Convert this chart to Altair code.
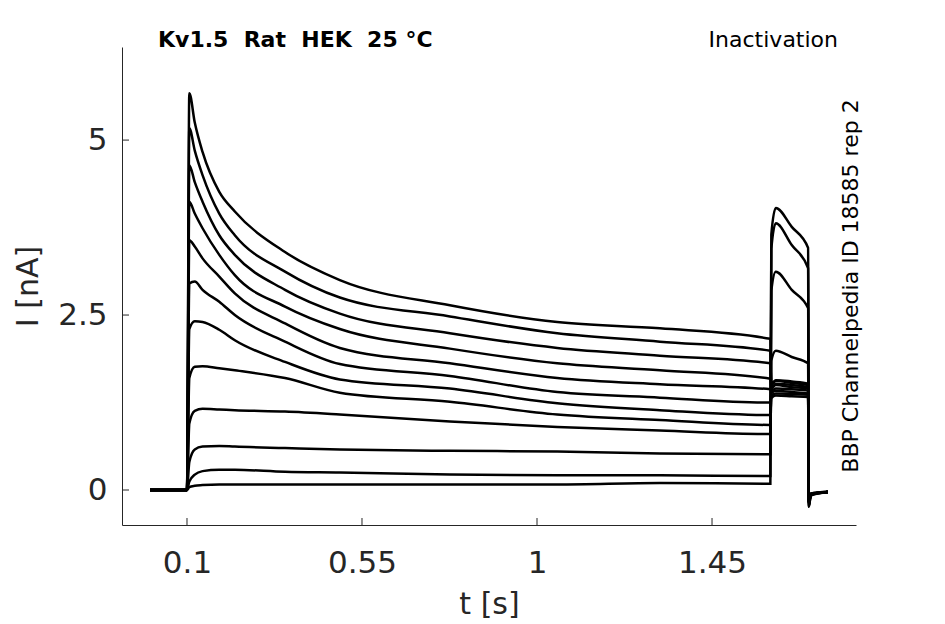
import altair as alt
import pandas as pd

# ---- data ----
T = [0.005, 0.0995, 0.1, 0.106, 0.12, 0.14, 0.183, 0.223, 0.352, 0.493, 0.776,
     1.052, 1.316, 1.6, 1.6025, 1.614, 1.655, 1.697, 1.699, 1.704, 1.748]

trace_01 = [0, 0, 0, 5.67, 5.25, 4.83, 4.26, 3.98, 3.40, 3.00, 2.64, 2.40, 2.31, 2.16, 1.45, 1.52, 1.50, 1.47, -0.18, -0.06, -0.03]
trace_02 = [0, 0, 0, 5.17, 4.85, 4.50, 3.95, 3.64, 3.12, 2.75, 2.48, 2.24, 2.12, 1.99, 1.50, 1.56, 1.53, 1.50, -0.18, -0.06, -0.03]
trace_03 = [0, 0, 0, 4.64, 4.40, 4.12, 3.64, 3.36, 2.86, 2.52, 2.24, 2.03, 1.92, 1.81, 1.52, 1.57, 1.55, 1.52, -0.19, -0.06, -0.03]
trace_04 = [0, 0, 0, 4.12, 3.95, 3.74, 3.36, 3.07, 2.62, 2.30, 2.02, 1.81, 1.71, 1.59, 1.46, 1.50, 1.47, 1.45, -0.18, -0.06, -0.03]
trace_05 = [0, 0, 0, 3.57, 3.48, 3.31, 3.05, 2.81, 2.38, 2.03, 1.81, 1.60, 1.51, 1.44, 1.42, 1.45, 1.44, 1.42, -0.18, -0.06, -0.03]
trace_06 = [0, 0, 0, 2.95, 2.98, 2.86, 2.69, 2.50, 2.12, 1.80, 1.63, 1.40, 1.32, 1.25, 1.38, 1.42, 1.40, 1.38, -0.18, -0.06, -0.03]
trace_07 = [0, 0, 0, 2.30, 2.41, 2.40, 2.29, 2.14, 1.83, 1.58, 1.45, 1.24, 1.14, 1.07, 1.34, 1.38, 1.37, 1.36, -0.17, -0.05, -0.03]
trace_08 = [0, 0, 0, 1.60, 1.76, 1.77, 1.74, 1.71, 1.60, 1.39, 1.26, 1.08, 1.00, 0.93, 1.31, 1.35, 1.34, 1.33, -0.17, -0.05, -0.02]
trace_09 = [0, 0, 0, 0.95, 1.13, 1.16, 1.15, 1.14, 1.12, 1.08, 0.98, 0.90, 0.85, 0.80, 1.85, 1.99, 1.90, 1.81, -0.20, -0.06, -0.03]
trace_10 = [0, 0, 0, 0.40, 0.58, 0.62, 0.63, 0.62, 0.60, 0.58, 0.56, 0.55, 0.52, 0.51, 2.85, 3.12, 2.86, 2.60, -0.22, -0.07, -0.03]
trace_11 = [0, 0, 0, 0.12, 0.22, 0.27, 0.29, 0.29, 0.26, 0.25, 0.22, 0.21, 0.21, 0.20, 3.45, 3.81, 3.50, 3.17, -0.23, -0.07, -0.03]
trace_12 = [0, 0, 0, 0.04, 0.06, 0.07, 0.08, 0.08, 0.08, 0.08, 0.08, 0.08, 0.10, 0.09, 3.65, 4.03, 3.76, 3.46, -0.24, -0.08, -0.03]

TRACES = [trace_01, trace_02, trace_03, trace_04, trace_05, trace_06,
          trace_07, trace_08, trace_09, trace_10, trace_11, trace_12]

x_ticks = [0.1, 0.55, 1, 1.45]
y_ticks = [0, 2.5, 5]
x_domain = [-0.0671, 1.8202]
y_domain = [-0.5, 6.33]

title_text = "Kv1.5 \u00a0Rat \u00a0HEK \u00a025 °C"
protocol_text = "Inactivation"
source_text = "BBP Channelpedia ID 18585 rep 2"
x_title = "t [s]"
y_title = "I [nA]"

rows = []
for k, vals in enumerate(TRACES):
    for t, v in zip(T, vals):
        rows.append({"trace": k, "t": t, "I": v})
df = pd.DataFrame(rows)

# ---- styling ----
W, H = 734, 478
AX = "#262626"
FONT = "DejaVu Sans"
TICK = 7

xscale = alt.Scale(domain=x_domain, nice=False, zero=False)
yscale = alt.Scale(domain=y_domain, nice=False, zero=False)

x_axis = alt.Axis(values=x_ticks, format=".3~g", ticks=False, tickSize=0, grid=False,
                  domainColor=AX, domainWidth=1, labelColor=AX, labelFont=FONT,
                  labelFontSize=31, labelPadding=23, labelFlush=False,
                  title=x_title, titleFont=FONT, titleFontSize=30, titleFontWeight="normal",
                  titleColor=AX, titleX=367, titleY=79, titleBaseline="middle",
                  titleAlign="center")
y_axis = alt.Axis(values=y_ticks, format=".3~g", ticks=False, tickSize=0, grid=False,
                  domainColor=AX, domainWidth=1, labelColor=AX, labelFont=FONT,
                  labelFontSize=31, labelPadding=15, labelFlush=False,
                  title=y_title, titleFont=FONT, titleFontSize=30, titleFontWeight="normal",
                  titleColor=AX, titleX=-94, titleY=239, titleAngle=270,
                  titleBaseline="middle", titleAlign="center")

lines = alt.Chart(df).mark_line(color="black", strokeWidth=2.5, interpolate="monotone").encode(
    x=alt.X("t:Q", scale=xscale, axis=x_axis),
    y=alt.Y("I:Q", scale=yscale, axis=y_axis),
    detail="trace:N",
)

xt = alt.Chart(pd.DataFrame({"t": x_ticks})).mark_rule(color=AX, strokeWidth=1).encode(
    x=alt.X("t:Q", scale=xscale, axis=x_axis),
    y=alt.value(H), y2=alt.value(H - TICK),
)
yt = alt.Chart(pd.DataFrame({"I": y_ticks})).mark_rule(color=AX, strokeWidth=1).encode(
    y=alt.Y("I:Q", scale=yscale, axis=y_axis),
    x=alt.value(0), x2=alt.value(TICK),
)

title_layer = alt.Chart(pd.DataFrame({"s": [title_text]})).mark_text(
    font=FONT, fontSize=22, fontWeight="bold", align="left", baseline="alphabetic", color="black"
).encode(text="s:N", x=alt.value(36), y=alt.value(0))

protocol_layer = alt.Chart(pd.DataFrame({"s": [protocol_text]})).mark_text(
    font=FONT, fontSize=22, align="right", baseline="alphabetic", color="black"
).encode(text="s:N", x=alt.value(716), y=alt.value(0))

source_layer = alt.Chart(pd.DataFrame({"s": [source_text]})).mark_text(
    font=FONT, fontSize=22, align="center", baseline="alphabetic", angle=270, color="black"
).encode(text="s:N", x=alt.value(736), y=alt.value(239))

chart = alt.layer(lines, xt, yt, title_layer, protocol_layer, source_layer).properties(
    width=W, height=H,
    autosize=alt.AutoSizeParams(type="none"),
    padding={"left": 114, "top": 39, "right": 81, "bottom": 100},
    background="white",
).configure_view(stroke="transparent")

chart.save("out.html", embed_options={"renderer": "svg", "actions": False})
